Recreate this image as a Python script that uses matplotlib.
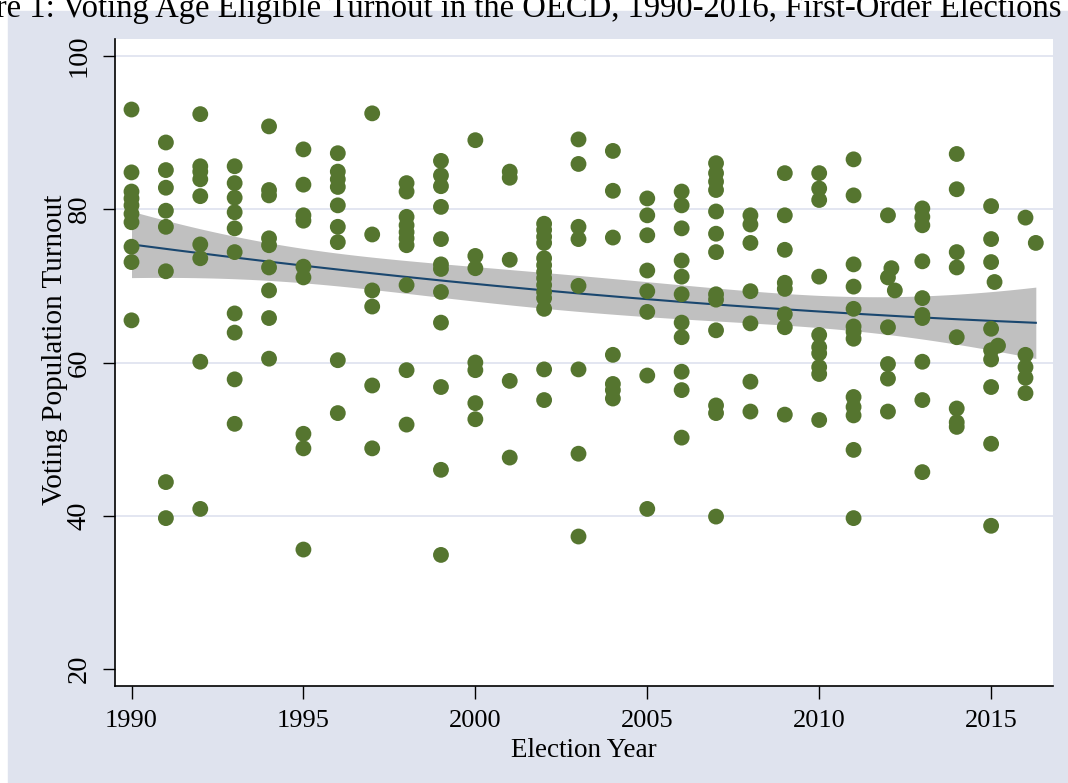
import matplotlib
matplotlib.use("Agg")
import matplotlib.pyplot as plt
from matplotlib.patches import Rectangle
import numpy as np

plt.rcParams['font.family'] = ['Liberation Serif', 'DejaVu Serif']

# election year and voting-age turnout (%) per election
years = (
    [1990] * 10 + [1991] * 8 + [1992] * 9 + [1993] * 10 + [1994] * 9
    + [1995] * 9 + [1996] * 9 + [1997] * 6 + [1998] * 10 + [1999] * 12
    + [2000] * 7 + [2001] * 5 + [2002] * 14 + [2003] * 8 + [2004] * 7
    + [2005] * 8 + [2006] * 11 + [2007] * 13 + [2008] * 7 + [2009] * 8
    + [2010] * 10 + [2011] * 13 + [2012] * 6 + [2012.1, 2012.2]
    + [2013] * 10 + [2014] * 8 + [2015] * 9 + [2015.1, 2015.2]
    + [2016] * 5 + [2016.3]
)
turnout = [
    93.0, 84.8, 82.3, 81.4, 80.5, 79.4, 78.3, 75.1, 73.1, 65.5,
    88.7, 85.1, 82.8, 79.8, 77.7, 71.9, 44.4, 39.7,
    92.4, 85.6, 84.9, 83.9, 81.7, 75.4, 73.6, 60.1, 40.9,
    85.6, 83.4, 81.5, 79.6, 77.5, 74.4, 66.4, 63.9, 57.8, 52.0,
    90.8, 82.5, 81.8, 76.2, 75.3, 72.4, 69.4, 65.8, 60.5,
    87.8, 83.2, 79.2, 78.5, 72.5, 71.1, 50.7, 48.8, 35.6,
    87.3, 84.9, 83.9, 82.9, 80.5, 77.7, 75.7, 60.3, 53.4,
    92.5, 76.7, 69.4, 67.3, 57.0, 48.8,
    83.4, 82.3, 79.0, 77.9, 77.0, 76.2, 75.3, 70.1, 59.0, 51.9,
    86.3, 84.4, 83.0, 80.3, 76.1, 72.8, 72.2, 69.2, 65.2, 56.8, 46.0, 34.9,
    89.0, 73.9, 72.3, 60.0, 59.0, 54.7, 52.6,
    84.9, 84.1, 73.4, 57.6, 47.6,
    78.1, 77.3, 76.4, 75.6, 73.6, 72.7, 71.8, 71.0, 70.1, 69.2, 68.4, 67.0, 59.1, 55.1,
    89.1, 85.9, 77.7, 76.1, 70.0, 59.1, 48.1, 37.3,
    87.6, 82.4, 76.3, 61.0, 57.2, 56.4, 55.3,
    81.4, 79.2, 76.6, 72.0, 69.3, 66.6, 58.3, 40.9,
    82.3, 80.5, 77.5, 73.3, 71.2, 68.9, 65.2, 63.3, 58.8, 56.4, 50.2,
    86.0, 84.7, 83.6, 82.5, 79.7, 76.8, 74.4, 68.9, 68.2, 64.2, 54.4, 53.4, 39.9,
    79.2, 78.0, 75.6, 69.3, 65.1, 57.5, 53.6,
    84.7, 79.2, 74.7, 70.4, 69.6, 66.3, 64.6, 53.2,
    84.7, 82.7, 81.2, 71.2, 63.6, 62.0, 61.2, 59.4, 58.5, 52.5,
    86.5, 81.8, 72.8, 69.9, 67.0, 64.7, 64.0, 63.1, 55.5, 54.2, 53.1, 48.6, 39.7,
    79.2, 71.1, 64.6, 59.8, 57.9, 53.6, 72.3, 69.4,
    80.1, 79.0, 77.9, 73.2, 68.4, 66.2, 65.8, 60.1, 55.1, 45.7,
    87.2, 82.6, 74.4, 72.4, 63.3, 54.0, 52.2, 51.6,
    80.4, 76.1, 73.1, 64.4, 61.6, 60.4, 56.8, 49.4, 38.7, 70.5, 62.2,
    78.9, 61.0, 59.4, 58.0, 56.0, 75.6,
]

x_ticks = [1990, 1995, 2000, 2005, 2010, 2015]
y_ticks = [20, 40, 60, 80, 100]
title = "Figure 1: Voting Age Eligible Turnout in the OECD, 1990-2016, First-Order Elections"

x = np.array(years, dtype=float)
y = np.array(turnout, dtype=float)

# quadratic fit with 95% CI of the prediction (like Stata qfitci)
t0 = x.mean()
X = np.column_stack([np.ones_like(x), x - t0, (x - t0) ** 2])
beta, *_ = np.linalg.lstsq(X, y, rcond=None)
resid = y - X @ beta
s2 = resid @ resid / (len(y) - 3)
cov = s2 * np.linalg.inv(X.T @ X)
xg = np.linspace(x.min(), x.max(), 200)
Xg = np.column_stack([np.ones_like(xg), xg - t0, (xg - t0) ** 2])
fit = Xg @ beta
se = np.sqrt(np.einsum('ij,jk,ik->i', Xg, cov, Xg))
lo, hi = fit - 1.97 * se, fit + 1.97 * se

fig = plt.figure(figsize=(10.68, 7.83), dpi=100)
fig.patch.set_facecolor('white')
bg = Rectangle((8 / 1068, 0), 1, (783 - 11) / 783,
               transform=fig.transFigure, color='#dfe3ee', zorder=-5)
fig.add_artist(bg)
# title is cropped at the top/left edge in the source image
fig.text(1062 / 1068, 1 - 17 / 783, title, ha='right', va='baseline', fontsize=23.5)

ax = fig.add_axes([115 / 1068, 97 / 783, 938 / 1068, 647 / 783])
ax.set_facecolor('white')
for v in y_ticks[1:]:
    ax.axhline(v, color='#e1e4f0', lw=1.3, zorder=0)

ax.fill_between(xg, lo, hi, color='#c0c0c0', lw=0, zorder=1)
ax.plot(xg, fit, color='#1a476f', lw=1.5, zorder=2)
ax.scatter(x, y, s=130, color='#55752f', edgecolors='none', zorder=3)

ax.set_xlim(1989.52, 2016.8)
ax.set_ylim(17.8, 102.2)
ax.set_xticks(x_ticks)
ax.set_yticks(y_ticks)
ax.tick_params(direction='out', length=9, width=1, pad=8)
ax.tick_params(axis='x', labelsize=19)
ax.tick_params(axis='y', labelsize=20.5)
for lab in ax.get_yticklabels():
    lab.set_rotation(90)
    lab.set_va('center')

for side in ['top', 'right']:
    ax.spines[side].set_visible(False)
for side in ['left', 'bottom']:
    ax.spines[side].set_linewidth(1.2)

ax.set_xlabel('Election Year', fontsize=19.5, va='center')
ax.xaxis.set_label_coords(0.5, -0.1)
ax.set_ylabel('Voting Population Turnout', fontsize=21, va='center')
ax.yaxis.set_label_coords(-0.064, 0.519)

fig.savefig('out.png', dpi=100, facecolor=fig.get_facecolor())
